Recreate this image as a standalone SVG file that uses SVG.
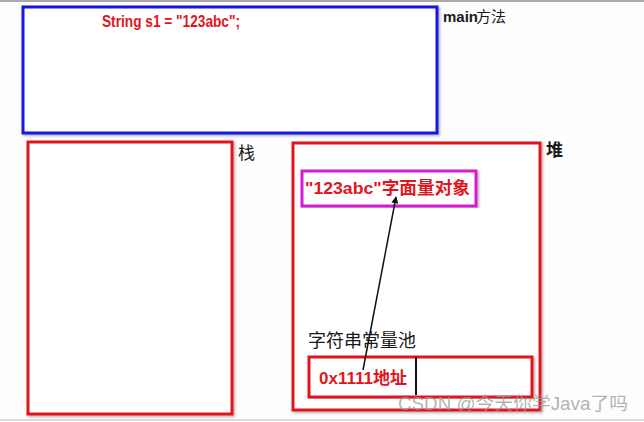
<svg xmlns="http://www.w3.org/2000/svg" width="644" height="422" viewBox="0 0 644 422">
<style>
.box{fill:#fff;stroke-width:3;filter:url(#sh)}
.red{stroke:#e0161e}
.lbl{font-family:"Liberation Sans","Noto Sans CJK SC",sans-serif;fill:#1a1a1a}
.code{font-family:"Liberation Sans","Noto Sans CJK SC",sans-serif;font-weight:bold;fill:#e0161e}
</style>
<defs>
<filter id="sh" x="-5%" y="-5%" width="110%" height="110%">
<feDropShadow dx="1.5" dy="1.5" stdDeviation="1" flood-color="#000" flood-opacity="0.3"/>
</filter>
<marker id="ah" viewBox="0 0 10 10" refX="9" refY="5" markerWidth="7" markerHeight="7" orient="auto-start-reverse" markerUnits="userSpaceOnUse">
<path d="M0,0 L10,5 L0,10 z" fill="#111"/>
</marker>
</defs>
<rect x="0" y="0" width="644" height="422" fill="#fdfdfd"/>
<line x1="0" y1="1" x2="644" y2="1" stroke="#aaa" stroke-width="2"/>
<line x1="0" y1="420" x2="644" y2="420" stroke="#ddd" stroke-width="2"/>
<g id="main">
<rect class="box" x="23" y="7" width="414" height="126" stroke="#1414e6"/>
<text class="code" x="102" y="27" font-size="17" textLength="138" lengthAdjust="spacingAndGlyphs">String s1 = "123abc";</text>
<text class="lbl" x="443" y="22" font-size="15" font-weight="bold">main</text>
<text class="lbl" x="476" y="22" font-size="15">方法</text>
</g>
<g id="stack">
<rect class="box red" x="28" y="142" width="204" height="272"/>
<text class="lbl" x="238" y="159" font-size="17">栈</text>
</g>
<g id="heap">
<rect class="box red" x="293" y="143" width="247" height="267"/>
<text class="lbl" x="546" y="156" font-size="17" font-weight="bold">堆</text>
</g>
<g id="literal">
<rect class="box" x="302" y="171" width="174" height="35" stroke="#d21ed2"/>
<text class="code" x="305" y="194" font-size="17" textLength="165" lengthAdjust="spacingAndGlyphs">"123abc"字面量对象</text>
</g>
<g id="pool">
<text class="lbl" x="308" y="347" font-size="18">字符串常量池</text>
<rect class="box red" x="309" y="357" width="223" height="40"/>
<line x1="416" y1="357" x2="416" y2="395" stroke="#111" stroke-width="2"/>
<text class="code" x="319" y="384" font-size="17">0x1111地址</text>
</g>
<g id="connectors">
<line x1="363" y1="370" x2="396" y2="197" stroke="#111" stroke-width="1.5" marker-end="url(#ah)"/>
</g>
<text x="398" y="410" font-family="Liberation Sans,'Noto Sans CJK SC',sans-serif" font-size="18.5" textLength="230" lengthAdjust="spacingAndGlyphs" fill="#999" fill-opacity="0.75">CSDN @今天你学Java了吗</text>
</svg>
